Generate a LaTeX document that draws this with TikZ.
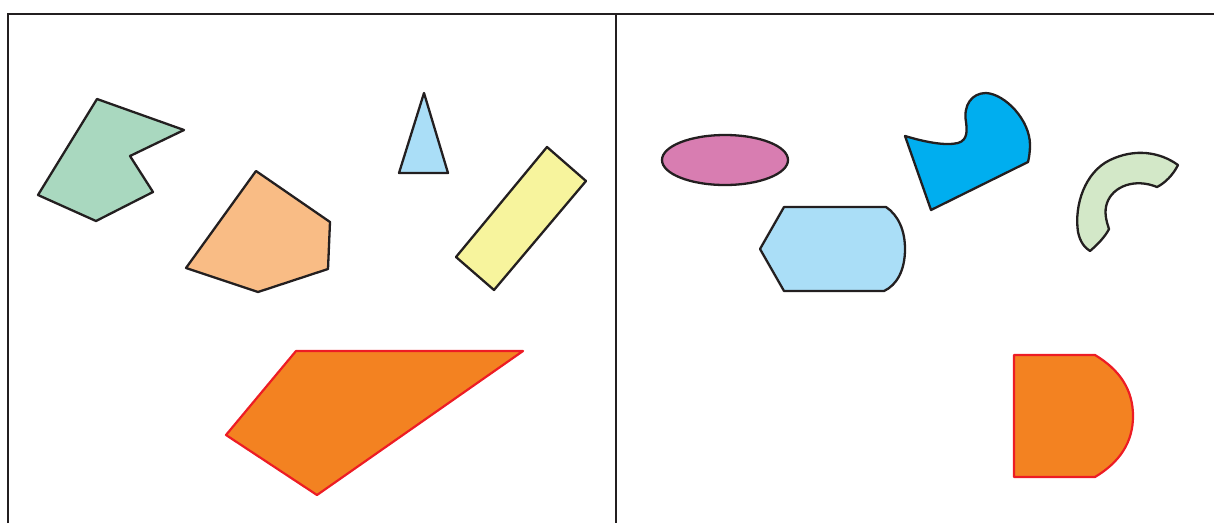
\documentclass[tikz,border=0pt]{standalone}
\begin{document}
\begin{tikzpicture}[x=1pt,y=-1pt,
  shp/.style={draw={rgb,255:red,35;green,31;blue,32}, line width=2.3pt, line join=round},
  redshp/.style={draw={rgb,255:red,237;green,28;blue,36}, line width=2.2pt, line join=round, fill={rgb,255:red,243;green,130;blue,33}},
  frame/.style={draw={rgb,255:red,35;green,31;blue,32}, line width=2.6pt}]
\useasboundingbox (0,0) rectangle (1214,523);
\definecolor{cgreen}{RGB}{169,216,191}
\definecolor{cpeach}{RGB}{249,188,133}
\definecolor{clblue}{RGB}{170,222,247}
\definecolor{cyellow}{RGB}{247,244,157}
\definecolor{cpink}{RGB}{216,125,177}
\definecolor{ccyan}{RGB}{0,174,239}
\definecolor{cpale}{RGB}{211,232,200}
% frame
\draw[frame] (8,523) -- (8,14) -- (1214,14);
\draw[frame] (616,14) -- (616,523);
% left panel
\path[shp, fill=cgreen] (97,99) -- (184,130) -- (130,156) -- (153,192) -- (96,221) -- (38,195) -- cycle;
\path[shp, fill=cpeach] (256,171) -- (330,222) -- (328,269) -- (258,292) -- (186,268) -- cycle;
\path[shp, fill=clblue] (424,93) -- (448,173) -- (399,173) -- cycle;
\path[shp, fill=cyellow] (547,147) -- (586,181) -- (494,290) -- (456,257) -- cycle;
\path[redshp] (296,351) -- (523,351) -- (317,495) -- (226,435) -- cycle;
% right panel
\path[shp, fill=cpink] (725,160) ellipse [x radius=63, y radius=25];
\path[shp, fill=clblue] (784,207) -- (886,207) .. controls (898,215) and (905,230) .. (905,249)
  .. controls (905,270) and (897,285) .. (884,291) -- (784,291) -- (760,249) -- cycle;
\path[shp, fill=ccyan] (905,136) .. controls (925,142) and (945,146) .. (958,143)
  .. controls (968,140) and (967,130) .. (966,122)
  .. controls (963,105) and (972,93) .. (986,93)
  .. controls (1005,94) and (1030,120) .. (1030,145)
  .. controls (1030,152) and (1029,158) .. (1028,162) -- (931,210) -- cycle;
\path[shp, fill=cpale] (1178,165) .. controls (1160,152) and (1135,148) .. (1110,160)
  .. controls (1085,172) and (1074,205) .. (1078,232)
  .. controls (1080,242) and (1085,248) .. (1090,251)
  .. controls (1097,245) and (1105,237) .. (1109,229)
  .. controls (1106,220) and (1104,212) .. (1107,203)
  .. controls (1113,186) and (1135,178) .. (1157,187)
  .. controls (1165,183) and (1173,175) .. (1178,165) -- cycle;
\path[redshp] (1014,355) -- (1095,355) .. controls (1120,370) and (1133,390) .. (1133,416)
  .. controls (1133,442) and (1120,462) .. (1095,477) -- (1014,477) -- cycle;
\end{tikzpicture}
\end{document}
